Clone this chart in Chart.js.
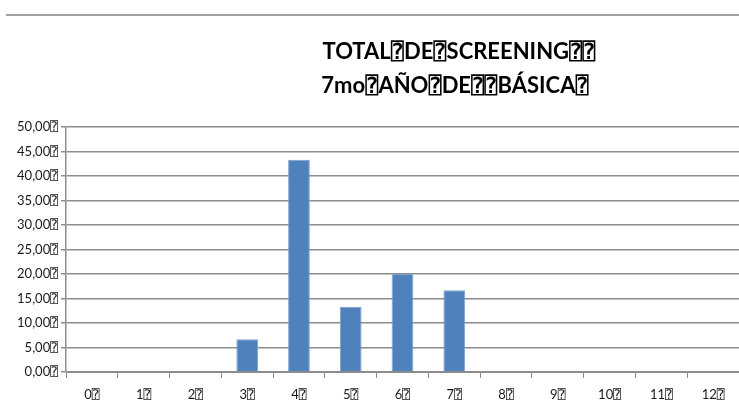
<!DOCTYPE html>
<html>
<head>
<meta charset="utf-8">
<script src="https://cdn.jsdelivr.net/npm/chart.js@4/dist/chart.umd.min.js"></script>
<style>
  html, body { margin: 0; padding: 0; background: #fff; overflow: hidden; }
  #wrap { position: relative; width: 739px; height: 410px; }
</style>
</head>
<body>
<div id="wrap"><canvas id="c" width="739" height="410"></canvas></div>
<script>
// Grades 0–12 and the share (%) of students screened at each one
const categories = ['0', '1', '2', '3', '4', '5', '6', '7', '8', '9', '10', '11', '12'];
const percentages = [0, 0, 0, 6.67, 43.33, 13.33, 20, 16.67, 0, 0, 0, 0, 0];
const yTicks = { min: 0, max: 50, step: 5 };
const titleLines = ['TOTAL\u2370DE\u2370SCREENING\u2370\u2370', '7mo\u2370AÑO\u2370DE\u2370\u2370BÁSICA\u2370'];
const box = '\u2370';

const fontStack = 'Lato, "Open Sans", "DejaVu Sans", "DejaVu Sans Mono", sans-serif';

// Frame line along the top and the two-line heading
const decorPlugin = {
  id: 'decor',
  beforeDraw(chart) {
    const ctx = chart.ctx;
    ctx.save();
    ctx.fillStyle = '#a3a3a3';
    ctx.fillRect(6, 14, chart.width - 6, 2);
    ctx.fillStyle = '#000';
    ctx.textAlign = 'center';
    ctx.textBaseline = 'alphabetic';
    ctx.font = 'bold 22px ' + fontStack;
    ctx.fillText(titleLines[0], 459, 59);
    ctx.fillText(titleLines[1], 455, 93);
    ctx.restore();
  }
};

new Chart(document.getElementById('c'), {
  type: 'bar',
  data: {
    labels: categories,
    datasets: [{
      data: percentages,
      backgroundColor: '#4f81bd',
      borderColor: '#7fa3d1',
      borderWidth: 1,
      barPercentage: 0.42,
      categoryPercentage: 1
    }]
  },
  options: {
    responsive: false,
    animation: false,
    events: [],
    layout: { padding: { top: 127, right: 0, bottom: 0, left: 0 } },
    plugins: {
      legend: { display: false },
      tooltip: { enabled: false },
      title: { display: false }
    },
    scales: {
      x: {
        grid: {
          offset: true,
          drawOnChartArea: false,
          drawTicks: true,
          tickLength: 6,
          color: '#8c8c8c',
          lineWidth: 1
        },
        border: { color: '#8c8c8c', width: 1 },
        ticks: {
          color: '#1a1a1a',
          font: { family: fontStack, size: 13 },
          padding: 9,
          maxRotation: 0,
          callback: (v, i) => categories[i] + box
        },
        afterFit(scale) { scale.height = 410 - 372; }
      },
      y: {
        min: yTicks.min,
        max: yTicks.max,
        grid: {
          color: '#8c8c8c',
          lineWidth: 1.5,
          drawTicks: true,
          tickLength: 5
        },
        border: { color: '#8c8c8c', width: 1.5 },
        ticks: {
          stepSize: yTicks.step,
          color: '#1a1a1a',
          font: { family: fontStack, size: 13 },
          padding: 3,
          callback: v => v.toFixed(2).replace('.', ',') + box
        },
        afterFit(scale) { scale.width = 66; }
      }
    }
  },
  plugins: [decorPlugin]
});
</script>
</body>
</html>
